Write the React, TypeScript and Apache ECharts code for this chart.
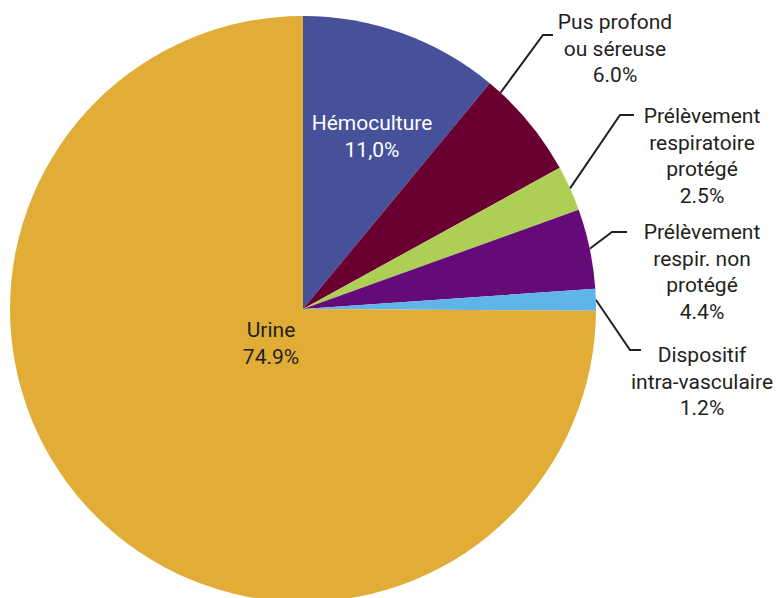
import React, { useEffect, useRef } from "react";
import * as echarts from "echarts";

const categories = [
  "Hémoculture",
  "Pus profond\nou séreuse",
  "Prélèvement\nrespiratoire\nprotégé",
  "Prélèvement\nrespir. non\nprotégé",
  "Dispositif\nintra-vasculaire",
  "Urine",
];
const values = [11.0, 6.0, 2.5, 4.4, 1.2, 74.9];
const percentLabels = ["11,0%", "6.0%", "2.5%", "4.4%", "1.2%", "74.9%"];
const colors = ["#46519a", "#6a0032", "#aecf55", "#650a78", "#5fb5ea", "#e1ad37"];

// layout (pixels)
const CX = 303;
const CY = 309;
const R = 293;
const LINE_H = 26.5;
type LabelPos = { cx: number; first: number; bend?: [number, number]; endX?: number; shift?: number; color: string };
const labelPos: LabelPos[] = [
  { cx: 372, first: 123, color: "#ffffff" },
  { cx: 615, first: 22, bend: [543, 35], endX: 553, shift: -8, color: "#231f20" },
  { cx: 702, first: 116, bend: [620, 115], endX: 634, shift: 0, color: "#231f20" },
  { cx: 702, first: 232, bend: [612, 232], endX: 627, shift: 0, color: "#231f20" },
  { cx: 702, first: 355, bend: [630, 350], endX: 641, shift: 0, color: "#231f20" },
  { cx: 271, first: 330, color: "#231f20" },
];

function midAngle(i: number): number {
  const total = values.reduce((a, b) => a + b, 0);
  let cum = 0;
  for (let k = 0; k < i; k++) cum += values[k];
  return ((cum + values[i] / 2) / total) * 360;
}

export default function App() {
  const ref = useRef<HTMLDivElement>(null);
  useEffect(() => {
    document.body.style.margin = "0";
    if (!ref.current) return;
    const chart = echarts.init(ref.current, null, { renderer: "svg" });
    const data = categories.map((name, i) => ({
      name,
      value: values[i],
      itemStyle: { color: colors[i] },
      label: { color: labelPos[i].color, position: labelPos[i].bend ? "outside" : "inside" },
      labelLine: { show: !!labelPos[i].bend },
    }));
    chart.setOption({
      animation: false,
      backgroundColor: "#ffffff",
      series: [
        {
          type: "pie",
          center: [CX, CY],
          radius: R,
          startAngle: 90,
          clockwise: true,
          avoidLabelOverlap: false,
          itemStyle: { borderWidth: 0 },
          emphasis: { disabled: true },
          label: {
            show: true,
            fontFamily: "Roboto",
            fontSize: 21,
            lineHeight: LINE_H,
            align: "center",
            formatter: (p: any) => `${p.name}\n${percentLabels[p.dataIndex]}`,
          },
          labelLine: {
            show: true,
            lineStyle: { color: "#231f20", width: 2 },
          },
          labelLayout: (p: any) => {
            const i = p.dataIndex;
            const L = labelPos[i];
            const res: any = {
              x: L.cx,
              y: L.first - LINE_H / 2,
              align: "center",
              verticalAlign: "top",
            };
            if (L.bend) {
              const a = ((midAngle(i) + (L.shift || 0)) * Math.PI) / 180;
              const sx = CX + R * Math.sin(a);
              const sy = CY - R * Math.cos(a);
              res.labelLinePoints = [
                [sx, sy],
                [L.bend[0], L.bend[1]],
                [L.endX, L.bend[1]],
              ];
            }
            return res;
          },
          data,
        },
      ],
    });
    return () => chart.dispose();
  }, []);
  return (
    <div
      ref={ref}
      style={{ position: "absolute", left: 0, top: 0, width: 780, height: 598 }}
    />
  );
}
